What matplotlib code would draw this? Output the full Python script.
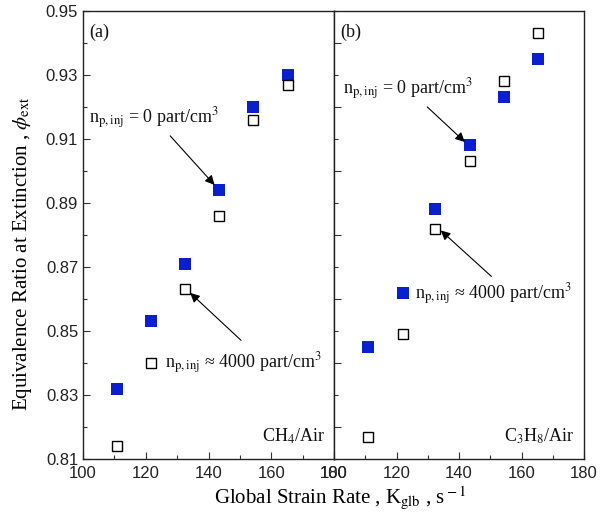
import matplotlib.pyplot as plt
from matplotlib.ticker import MultipleLocator

plt.rcParams['mathtext.fontset'] = 'stix'

# Panel (a): CH4/Air
x_a = [110.8, 121.7, 132.5, 143.3, 154.3, 165.2]
filled_a = [0.832, 0.853, 0.871, 0.894, 0.920, 0.930]
open_a = [0.814, 0.840, 0.863, 0.886, 0.916, 0.927]

# Panel (b): C3H8/Air
x_b = [110.9, 122.0, 132.3, 143.5, 154.4, 165.3]
filled_b = [0.845, 0.862, 0.888, 0.908, 0.923, 0.935]
open_b = [0.817, 0.849, 0.882, 0.903, 0.928, 0.943]

blue = '#0a1ed2'
serif = ['Liberation Serif', 'DejaVu Serif']
tickfont = ['Liberation Sans Narrow', 'Liberation Sans', 'DejaVu Sans']

fig = plt.figure(figsize=(6.08, 5.24), dpi=100)
ax_a = fig.add_axes([0.1365, 0.124, 0.413, 0.855])
ax_b = fig.add_axes([0.5495, 0.124, 0.411, 0.855])

for ax, xs, fv, ov in [(ax_a, x_a, filled_a, open_a), (ax_b, x_b, filled_b, open_b)]:
    ax.plot(xs, fv, 's', color=blue, markersize=8, markeredgewidth=0, zorder=3)
    ax.plot(xs, ov, 's', markerfacecolor='white', markeredgecolor='black',
            markersize=7.5, markeredgewidth=1.0, zorder=3)
    ax.set_xlim(100, 180)
    ax.set_ylim(0.81, 0.95)
    ax.xaxis.set_major_locator(MultipleLocator(20))
    ax.xaxis.set_minor_locator(MultipleLocator(10))
    ax.yaxis.set_major_locator(MultipleLocator(0.02))
    ax.yaxis.set_minor_locator(MultipleLocator(0.01))
    ax.tick_params(which='both', direction='in', top=False, right=False, color='#333333')
    ax.tick_params(which='major', length=5, width=0.8)
    ax.tick_params(which='minor', length=3, width=0.8)
    ax.tick_params(axis='x', pad=5)
    for sp in ax.spines.values():
        sp.set_linewidth(1.0)
        sp.set_color('#222222')
    for lab in ax.get_xticklabels() + ax.get_yticklabels():
        lab.set_family(tickfont)
        lab.set_fontsize(12)
        lab.set_color('#222222')

ax_a.set_yticks([0.81, 0.83, 0.85, 0.87, 0.89, 0.91, 0.93, 0.95])
ax_a.set_yticklabels(['0.81', '0.83', '0.85', '0.87', '0.89', '0.91', '0.93', '0.95'],
                     family=tickfont, fontsize=12, color='#222222')
ax_b.tick_params(axis='y', labelleft=False)

ann = dict(family=serif, fontsize=13, color='#111111')
arrow = dict(arrowstyle='-|>', color='black', lw=0.8, mutation_scale=14)

ax_a.text(102, 0.946, '(a)', ha='left', va='top', **ann)
ax_b.text(102, 0.946, '(b)', ha='left', va='top', **ann)
ax_a.text(177, 0.817, r'CH$_4$/Air', ha='right', va='center', **ann)
ax_b.text(177, 0.817, r'C$_3$H$_8$/Air', ha='right', va='center', **ann)

ax_a.annotate(r'n$_{\rm p,inj}$ = 0 part/cm$^3$', xy=(142.5, 0.895), xytext=(102, 0.9165),
              ha='left', va='center', arrowprops=arrow, **ann)
ax_a.text(126, 0.840, r'n$_{\rm p,inj}$ ≈ 4000 part/cm$^3$', ha='left', va='center', **ann)
ax_a.annotate('', xy=(133.5, 0.8625), xytext=(151, 0.8465), arrowprops=arrow)

ax_b.annotate(r'n$_{\rm p,inj}$ = 0 part/cm$^3$', xy=(142.5, 0.9085), xytext=(103, 0.9255),
              ha='left', va='center', arrowprops=arrow, **ann)
ax_b.text(126, 0.8615, r'n$_{\rm p,inj}$ ≈ 4000 part/cm$^3$', ha='left', va='center', **ann)
ax_b.annotate('', xy=(133.5, 0.882), xytext=(151, 0.8665), arrowprops=arrow)

fig.text(0.037, 0.515, r'Equivalence Ratio at Extinction , $\phi_{\rm ext}$', rotation=90,
         ha='center', va='center', family=serif, fontsize=15)
fig.text(0.559, 0.05, r'Global Strain Rate , K$_{\rm glb}$ , s$^{\rm -1}$',
         ha='center', va='center', family=serif, fontsize=15)

fig.savefig('out.png', dpi=100)
